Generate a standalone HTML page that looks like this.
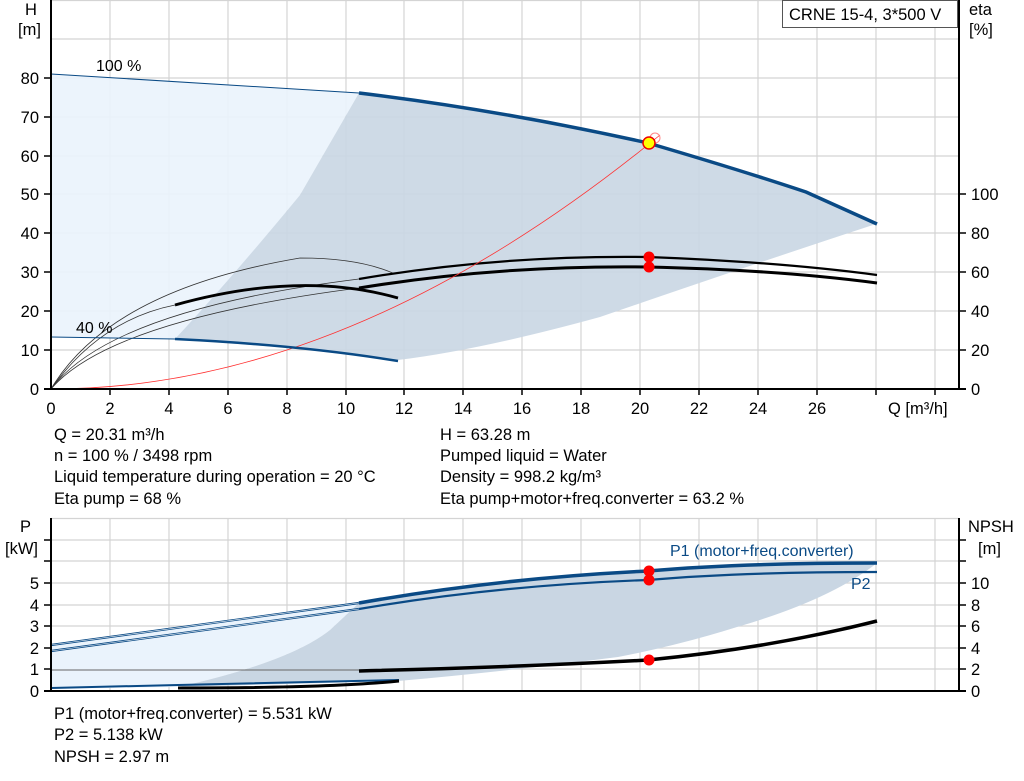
<!DOCTYPE html>
<html><head><meta charset="utf-8"><style>
body{margin:0;background:#fff;width:1024px;height:781px;overflow:hidden}
svg{display:block;font-family:"Liberation Sans",sans-serif}
</style></head><body>
<svg width="1024" height="781" viewBox="0 0 1024 781">
<!-- TOP CHART -->
<g stroke="#d4d4d4" stroke-width="1.2">
<line x1="110" y1="0" x2="110" y2="389"/><line x1="169" y1="0" x2="169" y2="389"/><line x1="228" y1="0" x2="228" y2="389"/><line x1="287" y1="0" x2="287" y2="389"/><line x1="346" y1="0" x2="346" y2="389"/><line x1="404" y1="0" x2="404" y2="389"/><line x1="463" y1="0" x2="463" y2="389"/><line x1="522" y1="0" x2="522" y2="389"/><line x1="581" y1="0" x2="581" y2="389"/><line x1="640" y1="0" x2="640" y2="389"/><line x1="699" y1="0" x2="699" y2="389"/><line x1="758" y1="0" x2="758" y2="389"/><line x1="817" y1="0" x2="817" y2="389"/><line x1="876" y1="0" x2="876" y2="389"/><line x1="935" y1="0" x2="935" y2="389"/>
<line x1="51" y1="350" x2="959" y2="350"/><line x1="51" y1="311" x2="959" y2="311"/><line x1="51" y1="272" x2="959" y2="272"/><line x1="51" y1="233" x2="959" y2="233"/><line x1="51" y1="194" x2="959" y2="194"/><line x1="51" y1="156" x2="959" y2="156"/><line x1="51" y1="117" x2="959" y2="117"/><line x1="51" y1="78" x2="959" y2="78"/><line x1="51" y1="39" x2="959" y2="39"/>
<line x1="51" y1="0.5" x2="959" y2="0.5"/>
</g>
<path d="M51,74 L359,93 L300,195 L180,340 L175,339 L51,337 Z" fill="#eaf3fc" opacity="0.9"/>
<path d="M359,93 Q500,110 648,143 Q740,170 806,192 L876,224 Q760,262 600,317 Q480,350 398,360 L290,348 L175,339 Q230,280 300,195 Z" fill="#c9d6e3" opacity="0.9"/>
<g fill="none" stroke="#333" stroke-width="0.8">
<path d="M51,389 Q110,290 300,258 Q360,258 395,274"/>
<path d="M51,389 Q100,320 175,305"/>
<path d="M51,389 Q110,310 359,279"/>
<path d="M51,389 Q110,320 359,288"/>
</g>
<g fill="none" stroke="#000" stroke-width="2.8">
<path d="M175,305 Q300,270 398,298"/>
<path d="M359,279 Q500,255 648,257 Q780,262 877,275" stroke-width="2.2"/>
<path d="M359,288 Q500,265 648,267 Q780,270 877,283" stroke-width="3"/>
</g>
<path d="M51,389 Q350,389 660,135" fill="none" stroke="#ff3030" stroke-width="0.8"/>
<path d="M51,74 L359,93" stroke="#0a4a85" stroke-width="1" fill="none"/>
<path d="M359,93 Q500,110 648,143 Q740,170 806,192 L877,224" stroke="#0a4a85" stroke-width="3.5" fill="none"/>
<path d="M51,337 L175,339" stroke="#0a4a85" stroke-width="1" fill="none"/>
<path d="M175,339 Q300,345 398,361" stroke="#0a4a85" stroke-width="2.5" fill="none"/>
<circle cx="655" cy="138" r="5" fill="none" stroke="#f88" stroke-width="1"/>
<circle cx="649" cy="143" r="6" fill="#ffff00" stroke="#e00" stroke-width="1.5"/>
<circle cx="649" cy="257" r="5.5" fill="#f00"/><circle cx="649" cy="267" r="5.5" fill="#f00"/>
<text x="96" y="71" font-size="16">100 %</text><text x="76" y="333" font-size="16">40 %</text>
<line x1="51" y1="0" x2="51" y2="390" stroke="#000" stroke-width="2"/>
<line x1="959" y1="0" x2="959" y2="390" stroke="#000" stroke-width="2"/>
<line x1="44" y1="389" x2="966" y2="389" stroke="#000" stroke-width="2"/>
<g stroke="#000" stroke-width="1.5">
<line x1="44" y1="350" x2="51" y2="350"/><line x1="44" y1="311" x2="51" y2="311"/><line x1="44" y1="272" x2="51" y2="272"/><line x1="44" y1="233" x2="51" y2="233"/><line x1="44" y1="194" x2="51" y2="194"/><line x1="44" y1="156" x2="51" y2="156"/><line x1="44" y1="117" x2="51" y2="117"/><line x1="44" y1="78" x2="51" y2="78"/>
<line x1="959" y1="350" x2="966" y2="350"/><line x1="959" y1="311" x2="966" y2="311"/><line x1="959" y1="272" x2="966" y2="272"/><line x1="959" y1="233" x2="966" y2="233"/><line x1="959" y1="194" x2="966" y2="194"/>
<line x1="110" y1="389" x2="110" y2="395"/><line x1="169" y1="389" x2="169" y2="395"/><line x1="228" y1="389" x2="228" y2="395"/><line x1="287" y1="389" x2="287" y2="395"/><line x1="346" y1="389" x2="346" y2="395"/><line x1="404" y1="389" x2="404" y2="395"/><line x1="463" y1="389" x2="463" y2="395"/><line x1="522" y1="389" x2="522" y2="395"/><line x1="581" y1="389" x2="581" y2="395"/><line x1="640" y1="389" x2="640" y2="395"/><line x1="699" y1="389" x2="699" y2="395"/><line x1="758" y1="389" x2="758" y2="395"/><line x1="817" y1="389" x2="817" y2="395"/><line x1="876" y1="389" x2="876" y2="395"/><line x1="935" y1="389" x2="935" y2="395"/>
</g>
<g font-size="16.5" text-anchor="end">
<text x="39" y="395">0</text><text x="39" y="356">10</text><text x="39" y="317">20</text><text x="39" y="278">30</text><text x="39" y="239">40</text><text x="39" y="200">50</text><text x="39" y="162">60</text><text x="39" y="123">70</text><text x="39" y="84">80</text>
</g>
<g font-size="16.5">
<text x="971" y="395">0</text><text x="971" y="356">20</text><text x="971" y="317">40</text><text x="971" y="278">60</text><text x="971" y="239">80</text><text x="971" y="200">100</text>
</g>
<g font-size="16.5" text-anchor="middle">
<text x="51" y="414">0</text><text x="110" y="414">2</text><text x="169" y="414">4</text><text x="228" y="414">6</text><text x="287" y="414">8</text><text x="346" y="414">10</text><text x="404" y="414">12</text><text x="463" y="414">14</text><text x="522" y="414">16</text><text x="581" y="414">18</text><text x="640" y="414">20</text><text x="699" y="414">22</text><text x="758" y="414">24</text><text x="817" y="414">26</text>
</g>
<text x="888" y="414" font-size="16.5">Q [m³/h]</text>
<text x="25" y="15" font-size="16.5">H</text><text x="18" y="35" font-size="16.5">[m]</text>
<text x="969" y="15" font-size="16.5">eta</text><text x="969" y="35" font-size="16.5">[%]</text>
<rect x="782.5" y="0.5" width="175" height="27" fill="#fff" stroke="#555"/>
<text x="789" y="20" font-size="16.5">CRNE 15-4, 3*500 V</text>
<g font-size="16.5">
<text x="54" y="440">Q = 20.31 m³/h</text><text x="54" y="461">n = 100 % / 3498 rpm</text><text x="54" y="482">Liquid temperature during operation = 20 °C</text><text x="54" y="504">Eta pump = 68 %</text>
<text x="440" y="440">H = 63.28 m</text><text x="440" y="461">Pumped liquid = Water</text><text x="440" y="482">Density = 998.2 kg/m³</text><text x="440" y="504">Eta pump+motor+freq.converter = 63.2 %</text>
</g>
<!-- BOTTOM CHART -->
<g stroke="#d4d4d4" stroke-width="1.2">
<line x1="110" y1="518" x2="110" y2="691"/><line x1="169" y1="518" x2="169" y2="691"/><line x1="228" y1="518" x2="228" y2="691"/><line x1="287" y1="518" x2="287" y2="691"/><line x1="346" y1="518" x2="346" y2="691"/><line x1="404" y1="518" x2="404" y2="691"/><line x1="463" y1="518" x2="463" y2="691"/><line x1="522" y1="518" x2="522" y2="691"/><line x1="581" y1="518" x2="581" y2="691"/><line x1="640" y1="518" x2="640" y2="691"/><line x1="699" y1="518" x2="699" y2="691"/><line x1="758" y1="518" x2="758" y2="691"/><line x1="817" y1="518" x2="817" y2="691"/><line x1="876" y1="518" x2="876" y2="691"/><line x1="935" y1="518" x2="935" y2="691"/>
<line x1="51" y1="669" x2="959" y2="669"/><line x1="51" y1="648" x2="959" y2="648"/><line x1="51" y1="626" x2="959" y2="626"/><line x1="51" y1="605" x2="959" y2="605"/><line x1="51" y1="583" x2="959" y2="583"/><line x1="51" y1="561" x2="959" y2="561"/><line x1="51" y1="540" x2="959" y2="540"/><line x1="51" y1="518.5" x2="959" y2="518.5"/>
</g>
<path d="M51,645 Q200,625 359,603 L330,630 Q290,662 178,687 L51,689 Z" fill="#eaf3fc"/>
<path d="M359,603 Q500,578 648,571 Q740,563 877,563 Q830,600 737,627 Q680,645 618,657 Q500,672 398,681 L178,687 Q290,662 330,630 Z" fill="#c9d6e3"/>
<path d="M51,645 Q200,625 359,603" fill="none" stroke="#0a4a85" stroke-width="2.2"/>
<path d="M51,645 Q200,625 359,603" fill="none" stroke="#fff" stroke-width="0.6"/>
<path d="M51,651 Q200,631 359,609" fill="none" stroke="#0a4a85" stroke-width="2.2"/>
<path d="M51,651 Q200,631 359,609" fill="none" stroke="#fff" stroke-width="0.6"/>
<path d="M359,603 Q500,578 648,571 Q740,563 877,563" fill="none" stroke="#0a4a85" stroke-width="3.5"/>
<path d="M359,609 Q500,585 648,580 Q740,572 877,572" fill="none" stroke="#0a4a85" stroke-width="2.2"/>
<line x1="51" y1="670" x2="359" y2="670" stroke="#666" stroke-width="1"/>
<path d="M359,671 Q520,667 648,660 Q770,648 877,621" fill="none" stroke="#000" stroke-width="3.5"/>
<path d="M51,688 L178,685 L399,680" fill="none" stroke="#0a4a85" stroke-width="2"/>
<path d="M178,688 Q330,688 399,681" fill="none" stroke="#000" stroke-width="3"/>
<circle cx="649" cy="571" r="5.5" fill="#f00"/><circle cx="649" cy="580" r="5.5" fill="#f00"/><circle cx="649" cy="660" r="5.5" fill="#f00"/>
<text x="670" y="556" font-size="16" fill="#0a4a85">P1 (motor+freq.converter)</text>
<text x="851" y="589" font-size="16" fill="#0a4a85">P2</text>
<line x1="51" y1="518" x2="51" y2="692" stroke="#000" stroke-width="2"/>
<line x1="959" y1="518" x2="959" y2="692" stroke="#000" stroke-width="2"/>
<line x1="44" y1="691" x2="966" y2="691" stroke="#000" stroke-width="2"/>
<g stroke="#000" stroke-width="1.5">
<line x1="44" y1="669" x2="51" y2="669"/><line x1="44" y1="648" x2="51" y2="648"/><line x1="44" y1="626" x2="51" y2="626"/><line x1="44" y1="605" x2="51" y2="605"/><line x1="44" y1="583" x2="51" y2="583"/><line x1="44" y1="561" x2="51" y2="561"/><line x1="44" y1="540" x2="51" y2="540"/>
<line x1="959" y1="669" x2="966" y2="669"/><line x1="959" y1="648" x2="966" y2="648"/><line x1="959" y1="626" x2="966" y2="626"/><line x1="959" y1="605" x2="966" y2="605"/><line x1="959" y1="583" x2="966" y2="583"/><line x1="959" y1="561" x2="966" y2="561"/><line x1="959" y1="540" x2="966" y2="540"/>
</g>
<g font-size="16.5" text-anchor="end">
<text x="39" y="697">0</text><text x="39" y="675">1</text><text x="39" y="654">2</text><text x="39" y="632">3</text><text x="39" y="611">4</text><text x="39" y="589">5</text>
</g>
<g font-size="16.5">
<text x="971" y="697">0</text><text x="971" y="675">2</text><text x="971" y="654">4</text><text x="971" y="632">6</text><text x="971" y="611">8</text><text x="971" y="589">10</text>
</g>
<text x="20" y="532" font-size="16.5">P</text><text x="5" y="554" font-size="16.5">[kW]</text>
<text x="968" y="532" font-size="16.5">NPSH</text><text x="978" y="554" font-size="16.5">[m]</text>
<g font-size="16.5">
<text x="54" y="719">P1 (motor+freq.converter) = 5.531 kW</text><text x="54" y="740">P2 = 5.138 kW</text><text x="54" y="762">NPSH = 2.97 m</text>
</g>
</svg>
</body></html>
